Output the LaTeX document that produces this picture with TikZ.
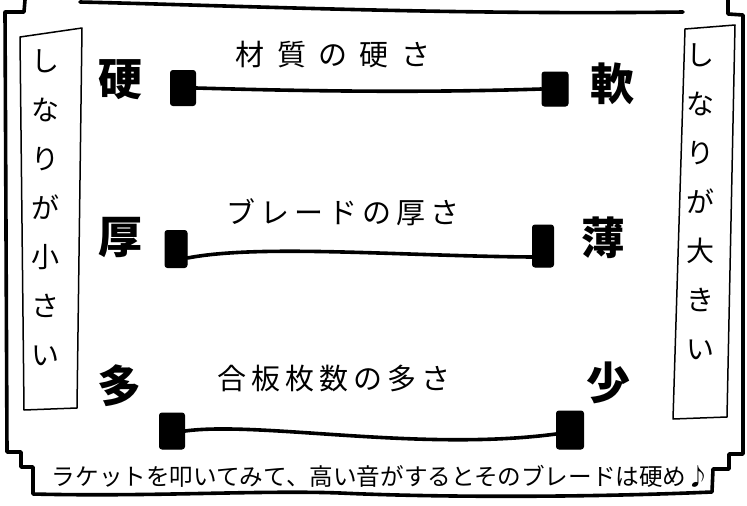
\documentclass[tikz,border=0pt]{standalone}
\usepackage{fontspec}
\usepackage{graphicx}
\newfontfamily\jp{Noto Sans CJK JP}
\begin{document}
\begin{tikzpicture}[x=1pt,y=-1pt,
  frame/.style={line width=3.6pt,line cap=round,line join=round},
  sidebox/.style={draw,line width=1.5pt,line join=round},
  bar/.style={line width=3.6pt,line cap=round},
  endsq/.style={fill=black,draw=black,line width=1pt,rounded corners=2.5pt,inner sep=0pt},
  biglabel/.style={font=\jp\bfseries\fontsize{44}{44}\selectfont,inner sep=0pt},
  barlabel/.style={font=\jp\fontsize{29}{29}\selectfont,inner sep=0pt},
  sidetext/.style={font=\jp\fontsize{28}{49}\selectfont,align=center,inner sep=0pt},
  foot/.style={font=\jp\fontsize{23.6}{24}\selectfont,inner sep=0pt}]
\useasboundingbox (0,0) rectangle (747,506);
\fill[white] (0,0) rectangle (747,506);

% outer frame
\draw[frame] (25,0) -- (24,12) -- (5,12) -- (6,230) -- (7,452) -- (21,452) -- (21,467) -- (33,467) -- (33,494)
  .. controls (150,497) and (260,490) .. (340,493)
  .. controls (450,498) and (600,497) .. (712,492)
  -- (713,469) -- (729,469) -- (729,454) -- (743,454) -- (743,15) -- (728,14) -- (728,0);
\draw[frame] (80,2) .. controls (250,6) and (450,15) .. (683,12);

% side boxes
\draw[sidebox] (20,37) -- (82,28) -- (77,408) -- (24,410) -- cycle;
\draw[sidebox] (685,29) -- (735,25) -- (727,417) -- (673,419) -- cycle;
\node[sidetext] (lside) at (45,208) {し\\な\\り\\が\\小\\さ\\い};
\node[sidetext] (rside) at (700,202) {し\\な\\り\\が\\大\\き\\い};

% big labels
\node[biglabel] (hard) at (120,80) {硬};
\node[biglabel] (soft) at (612,84) {軟};
\node[biglabel] (thick) at (120,238) {厚};
\node[biglabel] (thin) at (603,238) {薄};
\node[biglabel] (many) at (119,386) {多};
\node[biglabel] (few) at (608,383) {少};

% end squares
\node[endsq,minimum width=25pt,minimum height=35pt] (a1) at (183,88) {};
\node[endsq,minimum width=26pt,minimum height=34pt] (b1) at (555,89) {};
\node[endsq,minimum width=22pt,minimum height=37pt] (a2) at (176,249) {};
\node[endsq,minimum width=21pt,minimum height=42pt] (b2) at (543,246) {};
\node[endsq,minimum width=25pt,minimum height=36pt] (a3) at (172,431) {};
\node[endsq,minimum width=27pt,minimum height=38pt] (b3) at (570,430) {};

% connectors
\draw[bar] (a1.east) .. controls (300,91) and (420,93) .. (b1.west);
\draw[bar] ([yshift=-9pt]a2.east) .. controls (260,244) and (400,256) .. ([yshift=-11pt]b2.west);
\draw[bar] (a3.east) .. controls (260,421) and (420,452) .. ([yshift=-4pt]b3.west);

% bar labels
\node[barlabel] (t1) at (333,55) {\hbox to 195pt{材\hfil 質\hfil の\hfil 硬\hfil さ}};
\node[barlabel] (t2) at (343,212) {\hbox to 233pt{ブ\hfil レ\hfil ー\hfil ド\hfil の\hfil 厚\hfil さ}};
\node[barlabel] (t3) at (334,379) {\hbox to 234pt{合\hfil 板\hfil 枚\hfil 数\hfil の\hfil 多\hfil さ}};

% footer
\node[foot] (note) at (381,476) {ラケットを叩いてみて、高い音がするとそのブレードは硬め♪};
\end{tikzpicture}
\end{document}
